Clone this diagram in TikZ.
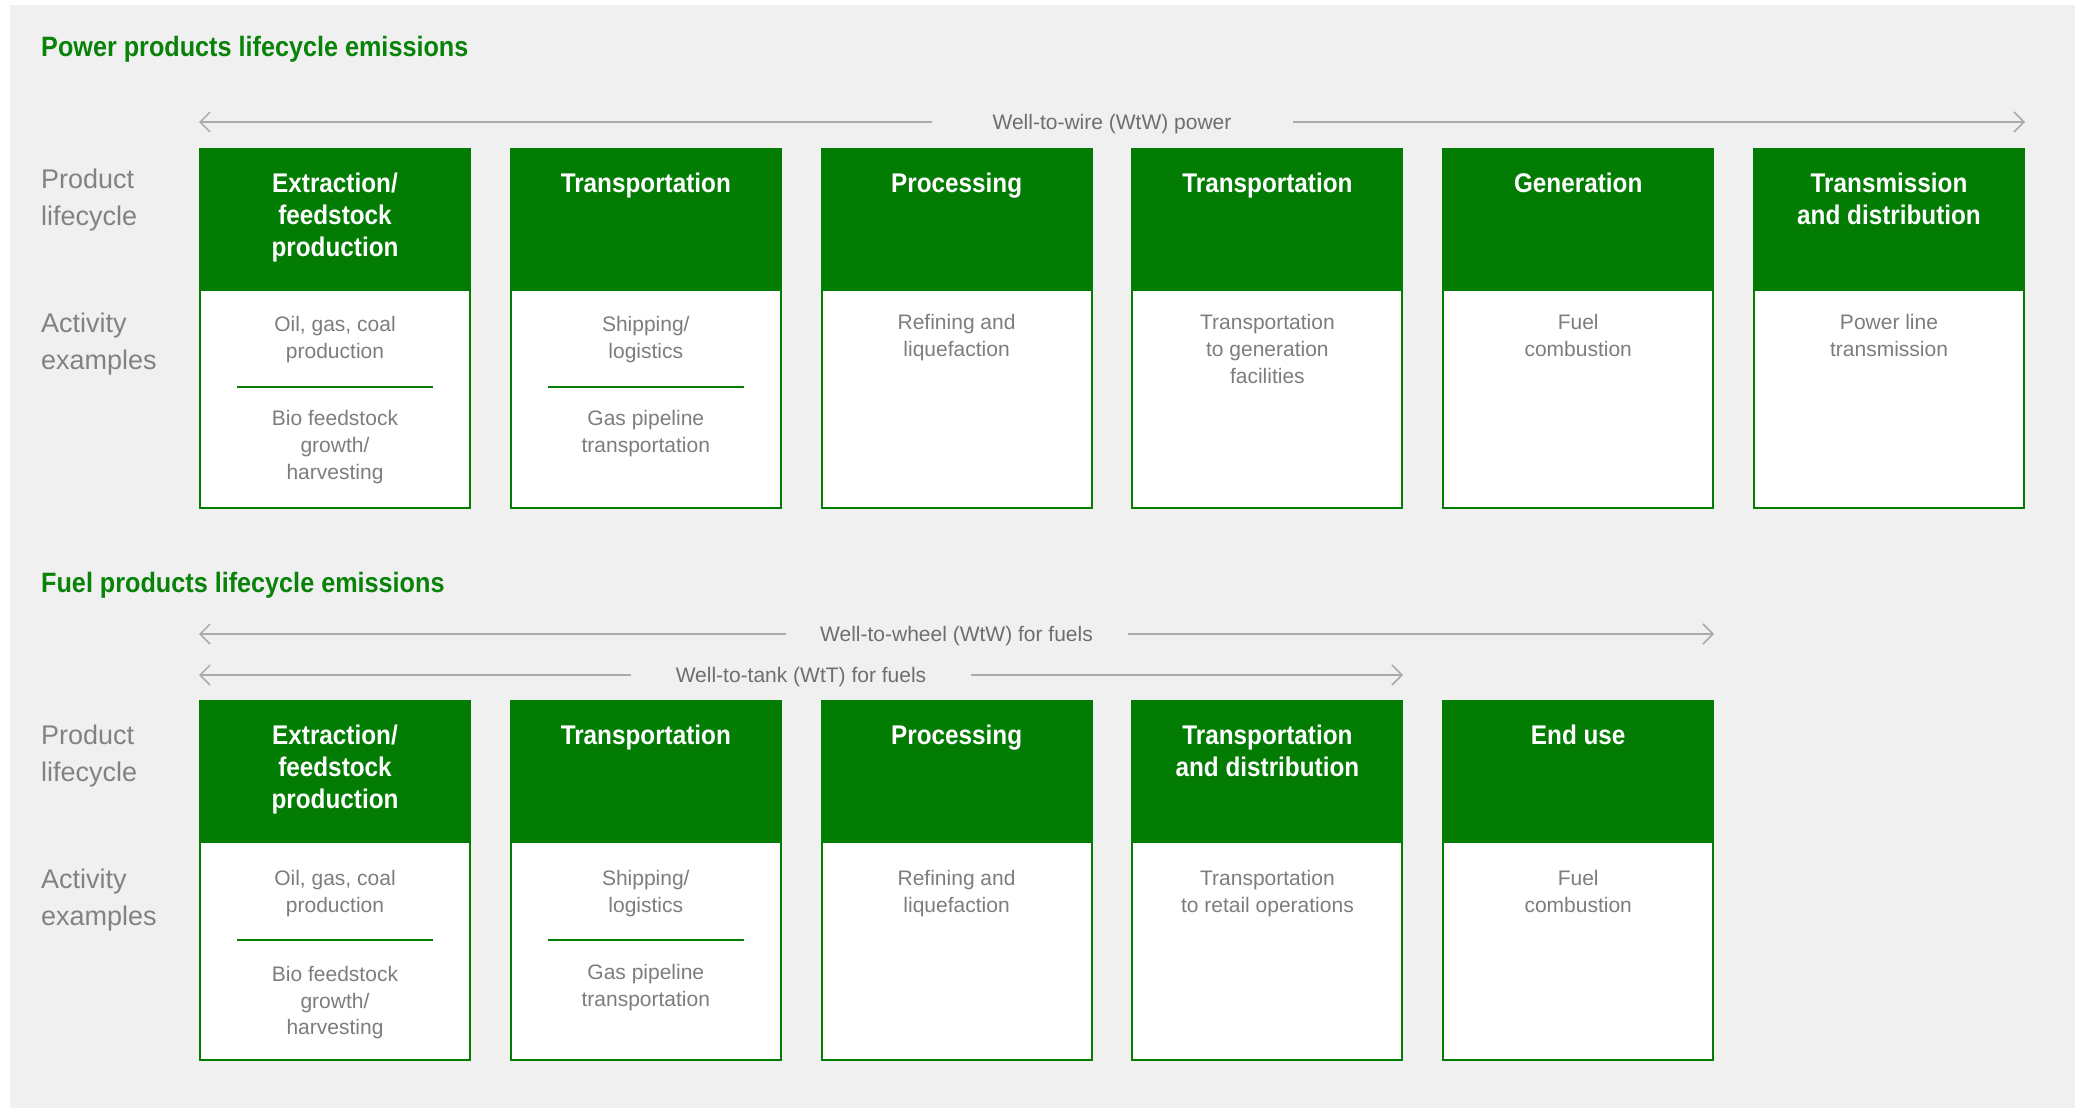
\documentclass[tikz,border=0pt]{standalone}
\usepackage{fontspec}
\setmainfont{Liberation Sans}
\newfontfamily\headfont[FakeStretch=0.9]{Liberation Sans}
\usetikzlibrary{positioning, arrows.meta}
\definecolor{leafgreen}{RGB}{3,124,3}
\definecolor{titlegreen}{RGB}{8,130,8}
\definecolor{panelgray}{RGB}{240,240,240}
\definecolor{bodygray}{RGB}{125,125,125}
\definecolor{sidegray}{RGB}{130,130,130}
\definecolor{spangray}{RGB}{110,110,110}
\definecolor{linegray}{RGB}{170,170,170}
\tikzset{
    head/.style={fill=leafgreen, minimum width=272pt, minimum height=141pt, inner sep=0pt, outer sep=0pt, anchor=north west},
    body/.style={draw=leafgreen, line width=2pt, fill=white, minimum width=270pt, minimum height=218pt, inner sep=0pt},
    headtext/.style={font=\headfont\bfseries\fontsize{27}{32}\selectfont, text=white, align=center, inner sep=0pt},
    bodytext/.style={font=\fontsize{21}{26.6}\selectfont, text=bodygray, align=center, inner sep=0pt},
    sidetext/.style={font=\fontsize{27}{37}\selectfont, text=sidegray, align=left, anchor=north west, inner sep=0pt},
    sectitle/.style={font=\headfont\bfseries\fontsize{28}{34}\selectfont, text=titlegreen, anchor=north west, inner sep=0pt},
    span/.style={draw=linegray, line width=1.5pt, {Straight Barb[length=10pt,width=20pt]}-{Straight Barb[length=10pt,width=20pt]}},
    spanlabel/.style={font=\fontsize{21}{25}\selectfont, text=spangray, fill=panelgray, inner sep=0pt, minimum height=28pt, yshift=-2pt},
    divider/.style={draw=leafgreen, line width=2.5pt}
}
\begin{document}
\begin{tikzpicture}[x=1pt, y=1pt]
    \useasboundingbox (0,0) rectangle (2083,-1108);
    \fill[white] (0,0) rectangle (2083,-1108);
    \fill[panelgray] (10,-5) rectangle (2075,-1108);

    % power products
    \node[sectitle] (ptitle) at (41,-36) {Power products lifecycle emissions};
    \coordinate (wtwL) at (199,-122);
    \coordinate (wtwR) at (2025,-122);
    \draw[span] (wtwL) -- node[spanlabel, minimum width=361pt] (wtwlab) {Well-to-wire (WtW) power} (wtwR);

    \node[sidetext] (pside1) at (41,-168.5) {Product\\lifecycle};
    \node[sidetext] (pside2) at (41,-312.5) {Activity\\examples};

    \node[head] (pw1) at (199,-147.5) {};
    \node[head, right=38.8pt of pw1] (pw2) {};
    \node[head, right=38.8pt of pw2] (pw3) {};
    \node[head, right=38.8pt of pw3] (pw4) {};
    \node[head, right=38.8pt of pw4] (pw5) {};
    \node[head, right=38.8pt of pw5] (pw6) {};
    \foreach \i in {1,...,6}
        \node[body, below=0pt of pw\i] (pwb\i) {};

    \node[headtext, below=25pt of pw1.north] (pwh1) {Extraction/\\feedstock\\production};
    \node[headtext, below=25pt of pw2.north] (pwh2) {Transportation};
    \node[headtext, below=25pt of pw3.north] (pwh3) {Processing};
    \node[headtext, below=25pt of pw4.north] (pwh4) {Transportation};
    \node[headtext, below=25pt of pw5.north] (pwh5) {Generation};
    \node[headtext, below=25pt of pw6.north] (pwh6) {Transmission\\and distribution};

    \node[bodytext, below=28pt of pw1.south] (pwt1) {Oil, gas, coal\\production};
    \node[bodytext, below=28pt of pw2.south] (pwt2) {Shipping/\\logistics};
    \node[bodytext, below=25.5pt of pw3.south] (pwt3) {Refining and\\liquefaction};
    \node[bodytext, below=26pt of pw4.south] (pwt4) {Transportation\\to generation\\facilities};
    \node[bodytext, below=25.5pt of pw5.south] (pwt5) {Fuel\\combustion};
    \node[bodytext, below=25.5pt of pw6.south] (pwt6) {Power line\\transmission};
    \draw[divider] ([xshift=-98pt, yshift=-98.5pt]pw1.south) -- ++(196,0);
    \draw[divider] ([xshift=-98pt, yshift=-98.5pt]pw2.south) -- ++(196,0);
    \node[bodytext, below=122pt of pw1.south] (pwu1) {Bio feedstock\\growth/\\harvesting};
    \node[bodytext, below=122pt of pw2.south] (pwu2) {Gas pipeline\\transportation};

    % fuel products
    \node[sectitle] (ftitle) at (41,-572) {Fuel products lifecycle emissions};
    \coordinate (wheelL) at (199,-634);
    \coordinate (wheelR) at (1714,-634);
    \draw[span] (wheelL) -- node[spanlabel, minimum width=342pt] (wheellab) {Well-to-wheel (WtW) for fuels} (wheelR);
    \coordinate (tankL) at (199,-675);
    \coordinate (tankR) at (1403,-675);
    \draw[span] (tankL) -- node[spanlabel, minimum width=340pt] (tanklab) {Well-to-tank (WtT) for fuels} (tankR);

    \node[sidetext] (fside1) at (41,-724.5) {Product\\lifecycle};
    \node[sidetext] (fside2) at (41,-868.5) {Activity\\examples};

    \node[head] (fu1) at (199,-700) {};
    \node[head, right=38.8pt of fu1] (fu2) {};
    \node[head, right=38.8pt of fu2] (fu3) {};
    \node[head, right=38.8pt of fu3] (fu4) {};
    \node[head, right=38.8pt of fu4] (fu5) {};
    \foreach \i in {1,...,5}
        \node[body, below=0pt of fu\i] (fub\i) {};

    \node[headtext, below=25pt of fu1.north] (fuh1) {Extraction/\\feedstock\\production};
    \node[headtext, below=25pt of fu2.north] (fuh2) {Transportation};
    \node[headtext, below=25pt of fu3.north] (fuh3) {Processing};
    \node[headtext, below=25pt of fu4.north] (fuh4) {Transportation\\and distribution};
    \node[headtext, below=25pt of fu5.north] (fuh5) {End use};

    \node[bodytext, below=29.5pt of fu1.south] (fut1) {Oil, gas, coal\\production};
    \node[bodytext, below=29.5pt of fu2.south] (fut2) {Shipping/\\logistics};
    \node[bodytext, below=29.5pt of fu3.south] (fut3) {Refining and\\liquefaction};
    \node[bodytext, below=29.5pt of fu4.south] (fut4) {Transportation\\to retail operations};
    \node[bodytext, below=29.5pt of fu5.south] (fut5) {Fuel\\combustion};
    \draw[divider] ([xshift=-98pt, yshift=-99pt]fu1.south) -- ++(196,0);
    \draw[divider] ([xshift=-98pt, yshift=-99pt]fu2.south) -- ++(196,0);
    \node[bodytext, below=125pt of fu1.south] (fuu1) {Bio feedstock\\growth/\\harvesting};
    \node[bodytext, below=123pt of fu2.south] (fuu2) {Gas pipeline\\transportation};
\end{tikzpicture}
\end{document}
